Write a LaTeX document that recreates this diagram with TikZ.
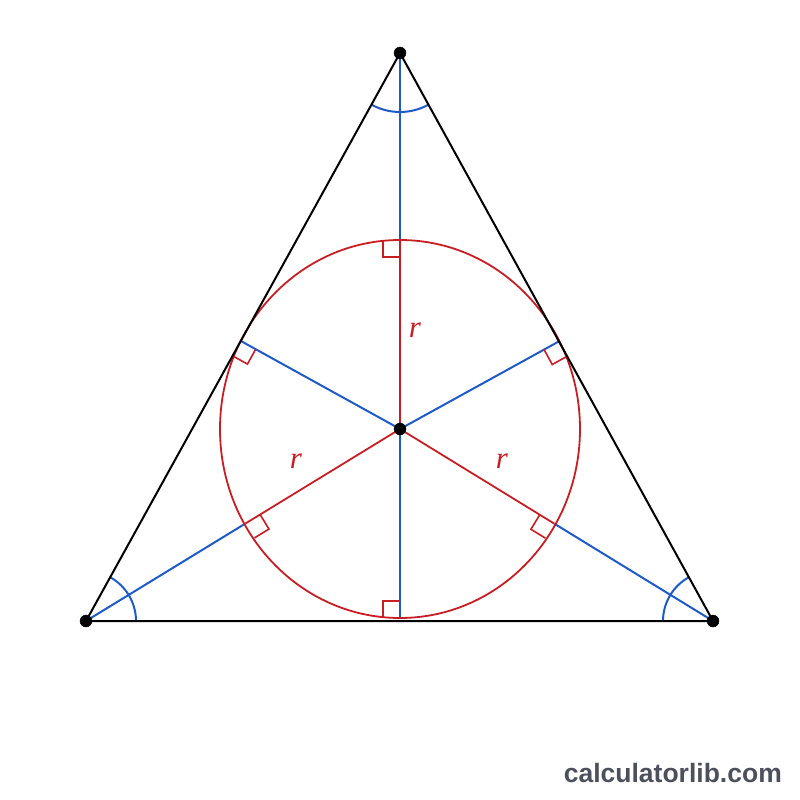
\documentclass[tikz,border=0pt]{standalone}
\usepackage{fontspec}
\newfontfamily\sitefont{Liberation Sans}
\newfontfamily\labelfont{Liberation Serif}
\usetikzlibrary{calc}
\definecolor{bisblue}{RGB}{30,90,200}
\definecolor{radred}{RGB}{200,30,35}
\definecolor{sitegray}{RGB}{75,80,92}
\def\centerarc[#1](#2)(#3:#4:#5){\draw[#1] ($(#2)+({#5*cos(#3)},{#5*sin(#3)})$) arc (#3:#4:#5);}
\def\sqmark[#1](#2)(#3)(#4){\coordinate (m1) at ($(#2)!17pt!(#3)$); \coordinate (m2) at ($(#2)!17pt!(#4)$); \draw[#1] (m1) -- ($(m1)+(m2)-(#2)$) -- (m2);}

\begin{document}
\begin{tikzpicture}[x=1pt, y=-1pt]
		%%%%% START %%%%%
		\useasboundingbox (0, 0) rectangle (800, 800);
		
		\coordinate (A) at (86, 621);
		\coordinate (B) at (713, 621);
		\coordinate (C) at (400, 53);
		\coordinate (I) at (400, 429);
		
		\coordinate (Ttop) at (400, 240);
		\coordinate (Tbot) at (400, 618);
		\coordinate (Tl) at (300, 240);
		\coordinate (Bl) at (300, 618);
		\coordinate (PL) at ($(C)!(I)!(A)$);
		\coordinate (PR) at ($(C)!(I)!(B)$);
		\coordinate (QL) at ($(I)!181pt!(A)$);
		\coordinate (QR) at ($(I)!181pt!(B)$);
		\coordinate (QLd) at ($(QL)!1!-90:(I)$);
		\coordinate (QRd) at ($(QR)!1!90:(I)$);
		
		\draw[line width=2pt, color=bisblue] (C) -- (Ttop);
		\draw[line width=2pt, color=bisblue] (I) -- (Tbot);
		\draw[line width=2pt, color=bisblue] (I) -- (PL);
		\draw[line width=2pt, color=bisblue] (I) -- (PR);
		\draw[line width=2pt, color=bisblue] (A) -- (QL);
		\draw[line width=2pt, color=bisblue] (B) -- (QR);
		
		\draw[line width=1.8pt, color=radred] (Ttop) -- (I);
		\draw[line width=1.8pt, color=radred] (QL) -- (I);
		\draw[line width=1.8pt, color=radred] (QR) -- (I);
		
		\draw[line width=1.8pt, color=radred] (I) ellipse [x radius=180pt, y radius=189pt];
		
		\sqmark[line width=1.6pt, color=radred](Ttop)(I)(Tl)
		\sqmark[line width=1.6pt, color=radred](Tbot)(I)(Bl)
		\sqmark[line width=1.6pt, color=radred](PL)(I)(A)
		\sqmark[line width=1.6pt, color=radred](PR)(I)(B)
		\sqmark[line width=1.6pt, color=radred](QL)(I)(QLd)
		\sqmark[line width=1.6pt, color=radred](QR)(I)(QRd)
		
		\centerarc[line width=2pt, color=bisblue](C)(61.14:118.93:59)
		\centerarc[line width=2pt, color=bisblue](A)(-61.07:0:50)
		\centerarc[line width=2pt, color=bisblue](B)(180:241.14:50)
		
		\draw[line width=2pt, line join=round] (A) -- (B) -- (C) -- cycle;
		
		\draw[fill=black] (A) circle (6);
		\draw[fill=black] (B) circle (6);
		\draw[fill=black] (C) circle (6);
		\draw[fill=black] (I) circle (6);
		
		\node[color=radred, font=\labelfont\itshape\fontsize{31}{31}\selectfont] (rtop) at (415, 330) {r};
		\node[color=radred, font=\labelfont\itshape\fontsize{31}{31}\selectfont] (rleft) at (296, 461) {r};
		\node[color=radred, font=\labelfont\itshape\fontsize{31}{31}\selectfont] (rright) at (502, 461) {r};
		
		\node[anchor=base east, color=sitegray, font=\sitefont\bfseries\fontsize{26.5}{26.5}\selectfont, inner sep=0pt] (site) at (782, 782) {calculatorlib.com};
		
		%%%%% END %%%%%
	\end{tikzpicture}
\end{document}
